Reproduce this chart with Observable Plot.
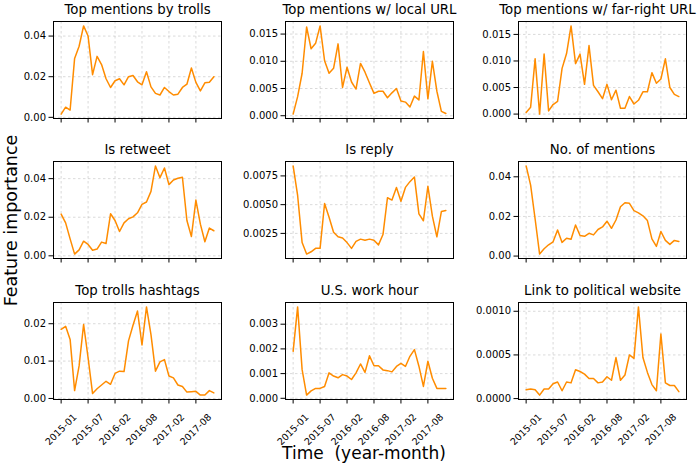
<!DOCTYPE html>
<html><head><meta charset="utf-8">
<script src="https://cdn.jsdelivr.net/npm/d3@7"></script>
<script src="https://cdn.jsdelivr.net/npm/@observablehq/plot@0.6"></script>
<style>
body{margin:0;background:#fff;font-family:"DejaVu Sans",sans-serif;}
#fig{position:relative;width:700px;height:468px;overflow:hidden;background:#fff;}
#fig svg{position:absolute;}
.lbl{position:absolute;white-space:pre;color:#000;font-size:17px;line-height:17px;text-align:center;font-family:"DejaVu Sans",sans-serif;}
</style></head><body><div id="fig"></div>
<script>
const xTickPos = [0, 6, 12, 18, 24, 30];
const xTickLabels = ["2015-01", "2015-07", "2016-02", "2016-08", "2017-02", "2017-08"];
const titles = ["Top mentions by trolls", "Top mentions w/ local URL", "Top mentions w/ far-right URL",
  "Is retweet", "Is reply", "No. of mentions",
  "Top trolls hashtags", "U.S. work hour", "Link to political website"];
const yAxisTitle = "Feature importance";
const xAxisTitle = "Time  (year-month)";

const trollMentions = [0.0016,0.005,0.0036,0.029,0.035,0.045,0.040,0.021,0.030,0.026,0.019,0.0147,0.018,0.019,0.016,0.020,0.0206,0.0175,0.016,0.0224,0.015,0.0118,0.011,0.0147,0.0127,0.011,0.0114,0.0147,0.0163,0.0243,0.0172,0.013,0.017,0.0173,0.020];
const localUrl = [0.0003,0.0035,0.0078,0.0163,0.0123,0.0133,0.0165,0.0101,0.0078,0.0087,0.0132,0.0052,0.0089,0.0062,0.0049,0.0096,0.0080,0.0060,0.0041,0.0045,0.0045,0.0033,0.0042,0.0050,0.0027,0.0025,0.0016,0.0036,0.0029,0.0118,0.0031,0.0100,0.0045,0.0008,0.0004];
const farRightUrl = [0.0003,0.0013,0.0104,0.0000,0.0113,0.0006,0.0018,0.0024,0.0086,0.0114,0.0166,0.0095,0.0113,0.0056,0.0129,0.0054,0.0042,0.0029,0.0056,0.0027,0.0045,0.0011,0.0011,0.0033,0.0019,0.0026,0.0042,0.0042,0.0078,0.0058,0.0066,0.0104,0.0050,0.0037,0.0033];
const isRetweet = [0.0216,0.0171,0.0088,0.0009,0.0031,0.0076,0.0059,0.0029,0.0035,0.0071,0.0064,0.0218,0.0183,0.0126,0.0171,0.0192,0.0202,0.0223,0.0267,0.0279,0.0334,0.0466,0.0405,0.0455,0.0369,0.0393,0.0402,0.0407,0.0183,0.0100,0.0289,0.0164,0.0073,0.0144,0.0130];
const isReply = [0.00837,0.0058,0.0017,0.0007,0.0009,0.0012,0.0012,0.0051,0.0039,0.0026,0.0022,0.0021,0.0017,0.0012,0.0018,0.0020,0.0019,0.0020,0.0019,0.0015,0.0024,0.0056,0.0054,0.0065,0.0053,0.0065,0.0070,0.0074,0.0042,0.0036,0.0066,0.0040,0.0022,0.0044,0.0045];
const numMentions = [0.0455,0.0358,0.0187,0.0010,0.0037,0.0057,0.0072,0.0132,0.0069,0.0090,0.0085,0.0157,0.0104,0.0100,0.0115,0.0107,0.0134,0.0147,0.0176,0.0140,0.0182,0.0249,0.0269,0.0266,0.0229,0.0218,0.0203,0.0179,0.0087,0.0049,0.0124,0.0079,0.0059,0.0079,0.0074];
const trollHashtags = [0.0185,0.0193,0.0158,0.0021,0.0087,0.0198,0.0109,0.0013,0.0026,0.0036,0.0046,0.0038,0.0067,0.0073,0.0072,0.0154,0.0196,0.0234,0.0143,0.0245,0.0171,0.0073,0.0098,0.0104,0.0060,0.0055,0.0036,0.0032,0.0017,0.0018,0.0019,0.0009,0.0009,0.0021,0.0015];
const workHour = [0.0019,0.0037,0.00116,0.00013,0.0003,0.0004,0.0004,0.00048,0.00103,0.0009,0.00083,0.00096,0.0009,0.00076,0.00103,0.00139,0.00105,0.00172,0.00132,0.00132,0.00115,0.00112,0.00107,0.00129,0.00141,0.00129,0.0017,0.00197,0.0013,0.00048,0.0015,0.00081,0.0004,0.0004,0.0004];
const politicalLink = [0.0001,0.00011,0.0001,0.00004,0.00011,0.00011,0.00017,0.00019,0.00009,0.00019,0.00018,0.00033,0.00031,0.00028,0.00023,0.00023,0.00018,0.00019,0.00025,0.00021,0.00047,0.00021,0.00027,0.0005,0.00046,0.00105,0.00047,0.0003,0.00016,0.00009,0.00074,0.00018,0.00015,0.00015,0.00008];

const yTicksA = [0, 0.02, 0.04], yLabelsA = ["0.00", "0.02", "0.04"];
const yTicksB = [0, 0.005, 0.01, 0.015], yLabelsB = ["0.000", "0.005", "0.010", "0.015"];
const yTicksC = [0.0025, 0.005, 0.0075], yLabelsC = ["0.0025", "0.0050", "0.0075"];
const yTicksD = [0, 0.01, 0.02], yLabelsD = ["0.00", "0.01", "0.02"];
const yTicksE = [0, 0.001, 0.002, 0.003], yLabelsE = ["0.000", "0.001", "0.002", "0.003"];
const yTicksF = [0, 0.0005, 0.001], yLabelsF = ["0.0000", "0.0005", "0.0010"];

const series = [trollMentions, localUrl, farRightUrl, isRetweet, isReply, numMentions, trollHashtags, workHour, politicalLink];
const yTicks = [yTicksA, yTicksB, yTicksB, yTicksA, yTicksC, yTicksA, yTicksD, yTicksE, yTicksF];
const yLabels = [yLabelsA, yLabelsB, yLabelsB, yLabelsA, yLabelsC, yLabelsA, yLabelsD, yLabelsE, yLabelsF];

const fig = document.getElementById("fig");
const colLeft = [53, 285, 518], rowTop = [21, 161, 302];
const W = 168, H = 97, ML = 52, MT = 24, MR = 6;
const gridStyle = {stroke: "#b0b0b0", strokeOpacity: 0.6, strokeDasharray: "2.5,2.5", strokeWidth: 0.8};

series.forEach((values, k) => {
  const r = Math.floor(k / 3), c = k % 3;
  const bottomRow = r === 2;
  const MB = bottomRow ? 60 : 8;
  const n = values.length;
  const [lo, hi] = d3.extent(values);
  const pad = 0.05 * (hi - lo);
  const xpad = 0.05 * (n - 1);
  const ticks = yTicks[k], labels = yLabels[k];
  const svg = Plot.plot({
    width: ML + W + MR, height: MT + H + MB,
    marginLeft: ML, marginRight: MR, marginTop: MT, marginBottom: MB,
    style: {fontFamily: '"DejaVu Sans", sans-serif', fontSize: "10px", background: "transparent", overflow: "visible", color: "#000"},
    x: {domain: [-xpad, n - 1 + xpad]},
    y: {domain: [lo - pad, hi + pad]},
    marks: [
      Plot.gridX(xTickPos, gridStyle),
      Plot.gridY(ticks, gridStyle),
      Plot.line(values, {x: (d, i) => i, y: d => d, stroke: "#ff8c00", strokeWidth: 1.5}),
      Plot.frame({stroke: "#000", strokeWidth: 1}),
      Plot.axisY(ticks, {tickSize: 4.5, tickPadding: 3, tickFormat: d => labels[ticks.indexOf(d)], label: null, fontSize: 10}),
      Plot.axisX(xTickPos, {tickSize: 4.5, tickFormat: () => "", label: null}),
      bottomRow ? Plot.text(xTickPos, {x: d => d, frameAnchor: "bottom", text: (d, i) => xTickLabels[i], rotate: -45, textAnchor: "end", lineAnchor: "middle", dx: 14, dy: 16, fontSize: 9.5, fill: "#000"}) : null,
      Plot.text([titles[k]], {frameAnchor: "top", text: d => d, dx: k === 2 ? -5 : 0, dy: -8, lineAnchor: "bottom", fontSize: 13.3, fontWeight: "normal", fill: "#000"})
    ]
  });
  svg.style.left = (colLeft[c] - ML) + "px";
  svg.style.top = (rowTop[r] - MT) + "px";
  fig.appendChild(svg);
});

const yl = document.createElement("div");
yl.className = "lbl";
yl.textContent = yAxisTitle;
yl.style.width = "210px";
yl.style.fontSize = "17.5px";
yl.style.lineHeight = "21px";
yl.style.left = (10.5 - 105) + "px";
yl.style.top = (220 - 10.5) + "px";
yl.style.transform = "rotate(-90deg)";
fig.appendChild(yl);

const xl = document.createElement("div");
xl.className = "lbl";
xl.textContent = xAxisTitle;
xl.style.width = "300px";
xl.style.left = (364 - 150) + "px";
xl.style.top = "445px";
fig.appendChild(xl);
</script></body></html>
